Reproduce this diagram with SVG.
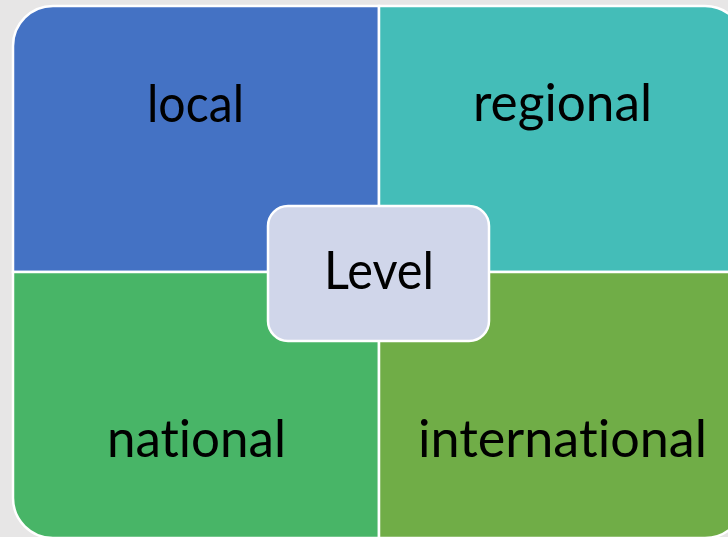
<svg xmlns="http://www.w3.org/2000/svg" width="728" height="537" viewBox="0 0 728 537">
<style>
.q{stroke:#ffffff;stroke-width:2.5}
.t{font-family:Lato,"Liberation Sans",sans-serif;font-size:53px;fill:#000000;text-anchor:middle;font-variant-ligatures:none;font-feature-settings:"liga" 0}
</style>
<rect x="0" y="0" width="728" height="537" fill="#e7e6e6"/>
<g id="local">
<path class="q" fill="#4472c4" d="M13,272 V46 A40,40 0 0 1 53,6 H379 V272 Z"/>
<text class="t" x="195.5" y="122" textLength="97" lengthAdjust="spacingAndGlyphs">local</text>
</g>
<g id="regional">
<path class="q" fill="#44bdb8" d="M379,6 H705 A40,40 0 0 1 745,46 V272 H379 Z"/>
<text class="t" x="562.5" y="121" textLength="179" lengthAdjust="spacingAndGlyphs">regional</text>
</g>
<g id="national">
<path class="q" fill="#48b567" d="M13,272 H379 V538 H53 A40,40 0 0 1 13,498 Z"/>
<text class="t" x="196.5" y="457" textLength="179" lengthAdjust="spacingAndGlyphs">national</text>
</g>
<g id="international">
<path class="q" fill="#70ad47" d="M379,272 H745 V498 A40,40 0 0 1 705,538 H379 Z"/>
<text class="t" x="562.5" y="457" textLength="289" lengthAdjust="spacingAndGlyphs">international</text>
</g>
<g id="level">
<rect x="268" y="206" width="221" height="135" rx="20" ry="20" fill="#d0d6ea" stroke="#ffffff" stroke-width="2.5"/>
<text class="t" x="379" y="289" textLength="110" lengthAdjust="spacingAndGlyphs">Level</text>
</g>
<g id="connectors"></g>
</svg>
